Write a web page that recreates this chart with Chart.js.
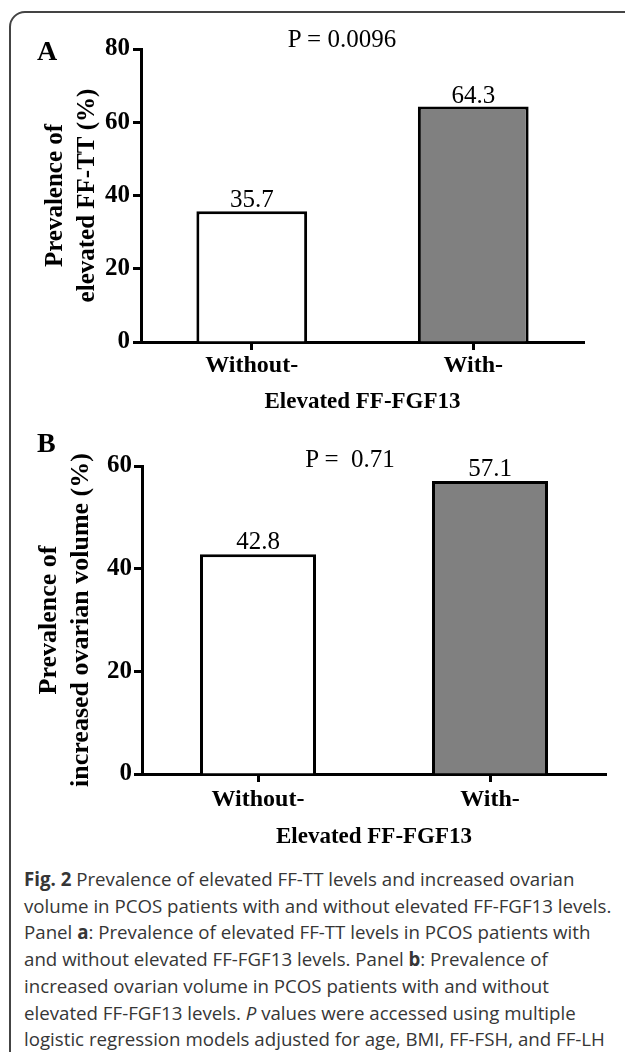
<!DOCTYPE html>
<html lang="en">
<head>
<meta charset="UTF-8">
<title>Fig. 2 Prevalence of elevated FF-TT and increased ovarian volume</title>
<script src="https://cdn.jsdelivr.net/npm/chart.js"></script>
<style>
  html, body { margin: 0; padding: 0; background: #fff; }
  body { width: 625px; height: 1052px; position: relative; overflow: hidden; }
  .frame {
    position: absolute; left: 9px; top: 11px; width: 700px; height: 1100px;
    border: 2px solid #444; border-radius: 16px; box-sizing: border-box;
  }
  canvas { position: absolute; left: 0; }
  #chartA { top: 0; }
  #chartB { top: 430px; }
  .serif {
    position: absolute; font-family: 'Liberation Serif', 'Times New Roman', serif;
    color: #000; white-space: pre; line-height: 1;
  }
  .panel { font-weight: bold; font-size: 28px; }
  .pval { font-size: 25px; transform: translateX(-50%); }
  .caption {
    position: absolute; left: 24px; top: 866px;
    font-family: 'Open Sans', sans-serif; font-size: 18.7px; line-height: 26.7px;
    color: #363636; white-space: nowrap;
  }
</style>
</head>
<body>
<div class="frame"></div>

<canvas id="chartA" width="625" height="430"></canvas>
<canvas id="chartB" width="625" height="430"></canvas>

<div class="serif panel" style="left:37px; top:37px;">A</div>
<div class="serif pval" style="left:342px; top:26px;">P = 0.0096</div>
<div class="serif panel" style="left:37px; top:429px;">B</div>
<div class="serif pval" style="left:350px; top:446px;">P =  0.71</div>

<div class="caption">
  <b>Fig. 2</b> Prevalence of elevated FF-TT levels and increased ovarian<br>
  volume in PCOS patients with and without elevated FF-FGF13 levels.<br>
  Panel <b>a</b>: Prevalence of elevated FF-TT levels in PCOS patients with<br>
  and without elevated FF-FGF13 levels. Panel <b>b</b>: Prevalence of<br>
  increased ovarian volume in PCOS patients with and without<br>
  elevated FF-FGF13 levels. <i>P</i> values were accessed using multiple<br>
  logistic regression models adjusted for age, BMI, FF-FSH, and FF-LH
</div>

<script>
  // chart data
  const categories = ['Without-', 'With-'];
  const ffttPrevalence = [35.7, 64.3];      // panel A, %
  const ovarianPrevalence = [42.8, 57.1];   // panel B, %
  const barColors = ['#ffffff', '#808080'];
  const xTitle = 'Elevated FF-FGF13';
  const yTitleA = ['Prevalence of', 'elevated FF-TT (%)'];
  const yTitleB = ['Prevalence of', 'increased ovarian volume (%)'];
  const yMaxA = 80;
  const yMaxB = 60;
  const yStep = 20;

  const SERIF = "'Liberation Serif', 'Times New Roman', serif";

  // numbers above the bars
  const valueLabels = {
    id: 'valueLabels',
    afterDatasetsDraw(chart, args, opts) {
      const ctx = chart.ctx;
      const values = chart.data.datasets[0].data;
      ctx.save();
      ctx.font = opts.font;
      ctx.fillStyle = '#000';
      ctx.textAlign = 'center';
      ctx.textBaseline = 'alphabetic';
      chart.getDatasetMeta(0).data.forEach((bar, i) => {
        ctx.fillText(values[i].toFixed(1), bar.x, bar.y - opts.gap);
      });
      ctx.restore();
    }
  };

  function barChart(id, values, yMax, yTitle, lay) {
    return new Chart(document.getElementById(id), {
      type: 'bar',
      data: {
        labels: categories,
        datasets: [{
          data: values,
          backgroundColor: barColors,
          borderColor: '#000',
          borderWidth: 3,
          barPercentage: 0.5,
          categoryPercentage: 1
        }]
      },
      options: {
        responsive: false,
        animation: false,
        layout: { padding: lay.padding },
        plugins: {
          legend: { display: false },
          tooltip: { enabled: false },
          valueLabels: { font: '25px ' + SERIF, gap: lay.gap }
        },
        scales: {
          x: {
            grid: { drawOnChartArea: false, offset: false, tickLength: 8, tickWidth: 3, tickColor: '#000' },
            border: { color: '#000', width: 3 },
            ticks: { color: '#000', padding: lay.xTickPad, font: { family: SERIF, size: 24, weight: 'bold' } },
            title: {
              display: true, text: xTitle, color: '#000',
              font: { family: SERIF, size: 23, weight: 'bold', lineHeight: 1.2 },
              padding: { top: 0, bottom: lay.xTitlePad }
            },
            afterFit: s => { s.height = lay.xHeight; }
          },
          y: {
            min: 0,
            max: yMax,
            grid: { drawOnChartArea: false, tickLength: 8, tickWidth: 3, tickColor: '#000' },
            border: { color: '#000', width: 3 },
            ticks: { stepSize: yStep, color: '#000', padding: lay.yTickPad, font: { family: SERIF, size: 25, weight: 'bold' } },
            title: {
              display: true, text: yTitle, color: '#000',
              font: { family: SERIF, size: lay.yTitleSize, weight: 'bold', lineHeight: lay.yTitleLH },
              padding: { top: lay.yTitlePad, bottom: 0 }
            },
            afterFit: s => { s.width = lay.yWidth; }
          }
        }
      },
      plugins: [valueLabels]
    });
  }

  barChart('chartA', ffttPrevalence, yMaxA, yTitleA, {
    padding: { top: 49, right: 41, bottom: 0, left: 0 },
    yWidth: 141, xHeight: 88,
    xTickPad: 1, xTitlePad: 14, yTickPad: 3,
    yTitleSize: 25, yTitleLH: 1.28, yTitlePad: 40,
    gap: 4
  });

  barChart('chartB', ovarianPrevalence, yMaxB, yTitleB, {
    padding: { top: 36, right: 19, bottom: 0, left: 0 },
    yWidth: 142, xHeight: 86,
    xTickPad: 3, xTitlePad: 9, yTickPad: 2,
    yTitleSize: 26, yTitleLH: 1.23, yTitlePad: 33,
    gap: 5
  });
</script>
</body>
</html>
